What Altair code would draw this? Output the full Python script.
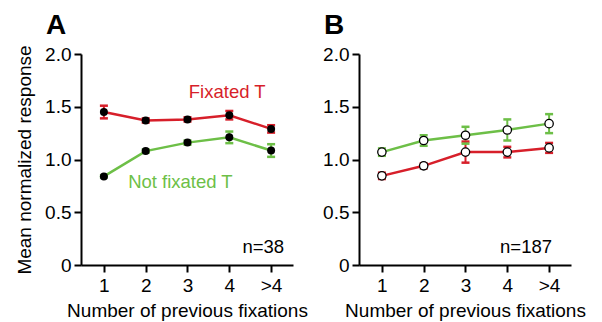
import altair as alt
import pandas as pd

x_labels = ["1", "2", "3", "4", ">4"]
x_pos = [1, 2, 3, 4, 5]

# Panel A
a_fix_mean = [1.45, 1.37, 1.38, 1.42, 1.29]
a_fix_err = [0.06, 0.02, 0.02, 0.04, 0.035]
a_not_mean = [0.84, 1.08, 1.16, 1.21, 1.085]
a_not_err = [0.01, 0.015, 0.02, 0.055, 0.06]

# Panel B
b_fix_mean = [0.845, 0.94, 1.07, 1.07, 1.11]
b_fix_err = [0.03, 0.025, 0.10, 0.05, 0.047]
b_not_mean = [1.07, 1.18, 1.23, 1.28, 1.34]
b_not_err = [0.035, 0.05, 0.08, 0.10, 0.09]

RED = "#d71f2a"
GREEN = "#6dbf47"
FONT = "Liberation Sans"


def make_df(fix_m, fix_e, not_m, not_e):
    rows = []
    for s, m, e in (("Fixated T", fix_m, fix_e), ("Not fixated T", not_m, not_e)):
        for xp, mv, ev in zip(x_pos, m, e):
            rows.append({"series": s, "x": xp, "mean": mv, "lo": mv - ev, "hi": mv + ev})
    return pd.DataFrame(rows)


xscale = alt.Scale(domain=[1 - 23 / 42, 5 + 22 / 42], nice=False, zero=False)
yscale = alt.Scale(domain=[0, 2], nice=False)
cscale = alt.Scale(domain=["Fixated T", "Not fixated T"], range=[RED, GREEN])

label_expr_x = "datum.value == 5 ? '>4' : format(datum.value, 'd')"
label_expr_y = "datum.value == 0 ? '0' : format(datum.value, '.1f')"


def panel(df, letter, n_text, n_x, filled_black, labels, show_ytitle):
    base = alt.Chart(df)
    x_enc = alt.X(
        "x:Q",
        scale=xscale,
        axis=alt.Axis(
            values=x_pos,
            labelExpr=label_expr_x,
            title="Number of previous fixations",
            grid=False,
        ),
    )
    y_enc = alt.Y(
        "mean:Q",
        scale=yscale,
        axis=alt.Axis(
            values=[0, 0.5, 1, 1.5, 2],
            labelExpr=label_expr_y,
            title="Mean normalized response" if show_ytitle else None,
            grid=False,
        ),
    )
    color = alt.Color("series:N", scale=cscale, legend=None)

    err = base.mark_rule(strokeWidth=2).encode(
        x="x:Q", y="lo:Q", y2="hi:Q", color=color
    )
    cap_hi = base.mark_rule(strokeWidth=2.5, xOffset=-4, x2Offset=4).encode(
        x="x:Q", x2="x:Q", y="hi:Q", color=color
    )
    cap_lo = base.mark_rule(strokeWidth=2.5, xOffset=-4, x2Offset=4).encode(
        x="x:Q", x2="x:Q", y="lo:Q", color=color
    )
    line = base.mark_line(strokeWidth=2.5).encode(
        x=x_enc, y=y_enc, color=color, detail="series:N"
    )
    if filled_black:
        pts = base.mark_point(filled=True, color="black", size=64, opacity=1).encode(
            x="x:Q", y="mean:Q"
        )
    else:
        pts = base.mark_point(
            filled=True, fill="white", stroke="black", strokeWidth=1.3, size=70, opacity=1
        ).encode(x="x:Q", y="mean:Q")

    layers = [line, err, cap_hi, cap_lo, pts]

    if labels:
        lab_df = pd.DataFrame(
            {
                "txt": ["Fixated T", "Not fixated T"],
                "series": ["Fixated T", "Not fixated T"],
                "lx": [3.95, 2.83],
                "ly": [1.64, 0.79],
            }
        )
        lab = alt.Chart(lab_df).mark_text(font=FONT, fontSize=18.5).encode(
            x="lx:Q", y="ly:Q", text="txt:N", color=color
        )
        layers.append(lab)

    n_df = pd.DataFrame({"txt": [n_text], "nx": [n_x], "ny": [0.17]})
    ntext = alt.Chart(n_df).mark_text(
        font=FONT, fontSize=18.5, align="right", color="black"
    ).encode(x="nx:Q", y="ny:Q", text="txt:N")
    layers.append(ntext)

    let_df = pd.DataFrame({"txt": [letter]})
    let = alt.Chart(let_df).mark_text(
        font=FONT, fontSize=28, fontWeight="bold", align="left", baseline="alphabetic", color="black"
    ).encode(x=alt.value(-35), y=alt.value(-20), text="txt:N")
    layers.append(let)

    return alt.layer(*layers).properties(width=212, height=211)


df_a = make_df(a_fix_mean, a_fix_err, a_not_mean, a_not_err)
df_b = make_df(b_fix_mean, b_fix_err, b_not_mean, b_not_err)

pa = panel(df_a, "A", "n=38", 5.31, True, True, True)
pb = panel(df_b, "B", "n=187", 5.07, False, False, False)

chart = (
    alt.hconcat(pa, pb, spacing=66, bounds="flush")
    .properties(padding={"left": 15, "top": 12, "right": 5, "bottom": 5})
    .configure_view(stroke=None)
    .configure_axis(
        domainColor="black",
        domainWidth=2,
        tickColor="black",
        tickWidth=2,
        tickSize=7,
        labelFont=FONT,
        labelFontSize=19,
        labelColor="black",
        labelPadding=4,
        titleFont=FONT,
        titleFontSize=19,
        titleColor="black",
        titleFontWeight="normal",
        labelFlush=False,
        labelOverlap=False,
    )
    .configure_axisY(titlePadding=10, labelPadding=3)
    .configure_axisX(titlePadding=6)
)

chart.save("out.html", embed_options={"renderer": "svg", "actions": False})
